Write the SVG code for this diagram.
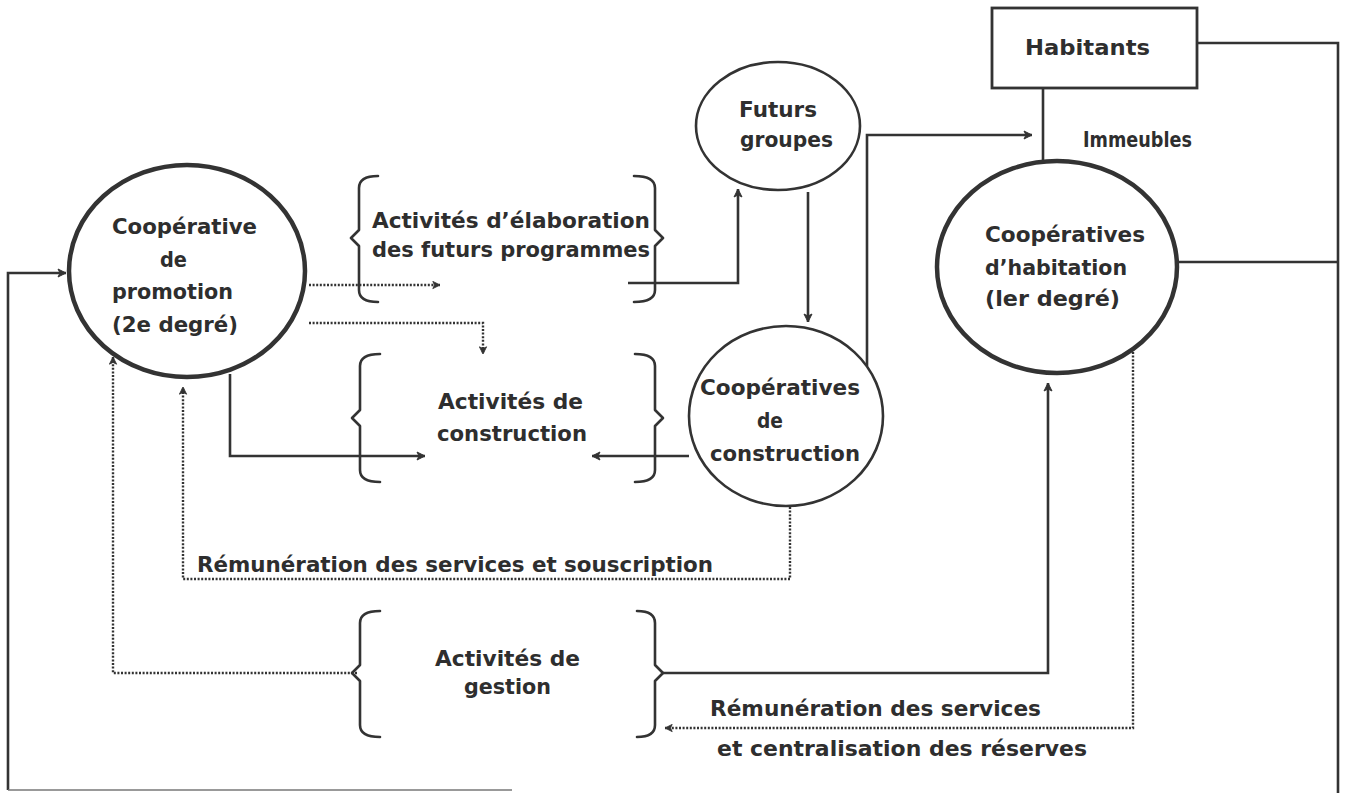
<svg xmlns="http://www.w3.org/2000/svg" width="1348" height="793" viewBox="0 0 1348 793">
  <defs>
    <style>
      .bg { fill: #ffffff; }
      .lbl { font-family: "DejaVu Sans", "Liberation Sans", sans-serif; font-weight: bold; font-size: 21px; fill: #2e2e2e; }
      .thick { fill: none; stroke: #333; stroke-width: 4.5; }
      .thin { fill: none; stroke: #333; stroke-width: 2.6; }
      .box { fill: none; stroke: #333; stroke-width: 2.8; }
      .brace { fill: none; stroke: #333; stroke-width: 2.6; stroke-linejoin: round; stroke-linecap: round; }
      .solid { fill: none; stroke: #333; stroke-width: 2.6; }
      .dotted { fill: none; stroke: #333; stroke-width: 2.4; stroke-dasharray: 2 1.6; }
      .faint { fill: none; stroke: #777; stroke-width: 1.6; }
    </style>
    <marker id="arr" viewBox="0 0 10 10" refX="9" refY="5" markerWidth="10" markerHeight="10" markerUnits="userSpaceOnUse" orient="auto">
      <path d="M1,1 L9,5 L1,9 L3,5 z" fill="#333" stroke="#333" stroke-width="1"/>
    </marker>
    <marker id="arrd" viewBox="0 0 10 10" refX="9" refY="5" markerWidth="9" markerHeight="9" markerUnits="userSpaceOnUse" orient="auto">
      <path d="M1,1 L9,5 L1,9 L3,5 z" fill="#333" stroke="#333" stroke-width="1"/>
    </marker>
  </defs>

  <rect class="bg" x="0" y="0" width="1348" height="793"/>

  <!-- connectors -->
  <g id="connectors">
    <!-- outer return loop into the promotion cooperative -->
    <path class="solid" d="M8,790 L8,273 L66,273" marker-end="url(#arr)"/>
    <path class="faint" d="M8,790 L512,790"/>
    <!-- promotion -> construction activities -->
    <path class="solid" d="M230,374 L230,456 L425,456" marker-end="url(#arr)"/>
    <!-- programme activities -> future groups -->
    <path class="solid" d="M628,283 L738,283 L738,189" marker-end="url(#arr)"/>
    <!-- future groups -> construction cooperatives -->
    <path class="solid" d="M808,192 L808,322" marker-end="url(#arr)"/>
    <!-- construction cooperatives -> construction activities -->
    <path class="solid" d="M689,456 L592,456" marker-end="url(#arr)"/>
    <!-- construction cooperatives -> buildings -->
    <path class="solid" d="M867,366 L867,135 L1032,135" marker-end="url(#arr)"/>
    <!-- residents <-> housing cooperatives -->
    <path class="solid" d="M1043,88 L1043,161"/>
    <path class="solid" d="M1197,43 L1338,43 L1338,793"/>
    <path class="solid" d="M1177,262 L1338,262"/>
    <!-- management activities -> housing cooperatives -->
    <path class="solid" d="M663,673 L1048,673 L1048,383" marker-end="url(#arr)"/>

    <!-- dotted flows -->
    <path class="dotted" d="M309,285 L440,285" marker-end="url(#arrd)"/>
    <path class="dotted" d="M309,323 L483,323 L483,354" marker-end="url(#arrd)"/>
    <path class="dotted" d="M357,673 L113,673 L113,357" marker-end="url(#arrd)"/>
    <path class="dotted" d="M790,507 L790,579 L183,579 L183,387" marker-end="url(#arrd)"/>
    <path class="dotted" d="M1133,352 L1133,728 L665,728" marker-end="url(#arrd)"/>
  </g>

  <!-- Coopérative de promotion -->
  <g id="promotion">
    <ellipse class="thick" cx="187" cy="271" rx="118" ry="106"/>
    <text class="lbl" x="112" y="234" textLength="145" lengthAdjust="spacingAndGlyphs">Coopérative</text>
    <text class="lbl" x="160" y="267" textLength="27" lengthAdjust="spacingAndGlyphs">de</text>
    <text class="lbl" x="112" y="299" textLength="121" lengthAdjust="spacingAndGlyphs">promotion</text>
    <text class="lbl" x="112" y="332" textLength="126" lengthAdjust="spacingAndGlyphs">(2e degré)</text>
  </g>

  <!-- Activités d'élaboration des futurs programmes -->
  <g id="elaboration">
    <path class="brace" d="M378,176 Q359,176 359,188 L359,230 L351,238 L359,246 L359,290 Q359,302 378,302"/>
    <path class="brace" d="M634,176 Q655,176 655,188 L655,230 L663,238 L655,246 L655,290 Q655,302 634,302"/>
    <text class="lbl" x="372" y="228" textLength="278" lengthAdjust="spacingAndGlyphs">Activités d’élaboration</text>
    <text class="lbl" x="372" y="257" textLength="278" lengthAdjust="spacingAndGlyphs">des futurs programmes</text>
  </g>

  <!-- Futurs groupes -->
  <g id="futurs-groupes">
    <ellipse class="thin" cx="778" cy="126" rx="82" ry="64"/>
    <text class="lbl" x="739" y="117" textLength="78" lengthAdjust="spacingAndGlyphs">Futurs</text>
    <text class="lbl" x="740" y="147" textLength="93" lengthAdjust="spacingAndGlyphs">groupes</text>
  </g>

  <!-- Habitants -->
  <g id="habitants">
    <rect class="box" x="992" y="8" width="205" height="80"/>
    <text class="lbl" x="1025" y="55" textLength="125" lengthAdjust="spacingAndGlyphs">Habitants</text>
  </g>

  <!-- Immeubles label -->
  <g id="immeubles">
    <text class="lbl" x="1083" y="147" textLength="109" lengthAdjust="spacingAndGlyphs">Immeubles</text>
  </g>

  <!-- Coopératives d'habitation -->
  <g id="habitation">
    <ellipse class="thick" cx="1057" cy="267" rx="120" ry="106"/>
    <text class="lbl" x="985" y="242" textLength="160" lengthAdjust="spacingAndGlyphs">Coopératives</text>
    <text class="lbl" x="985" y="275" textLength="142" lengthAdjust="spacingAndGlyphs">d’habitation</text>
    <text class="lbl" x="985" y="306" textLength="135" lengthAdjust="spacingAndGlyphs">(ler degré)</text>
  </g>

  <!-- Activités de construction -->
  <g id="activites-construction">
    <path class="brace" d="M380,354 Q360,354 360,366 L360,410 L352,418 L360,426 L360,470 Q360,482 380,482"/>
    <path class="brace" d="M635,354 Q655,354 655,366 L655,410 L663,418 L655,426 L655,470 Q655,482 635,482"/>
    <text class="lbl" x="438" y="409" textLength="145" lengthAdjust="spacingAndGlyphs">Activités de</text>
    <text class="lbl" x="437" y="441" textLength="150" lengthAdjust="spacingAndGlyphs">construction</text>
  </g>

  <!-- Coopératives de construction -->
  <g id="cooperatives-construction">
    <ellipse class="thin" cx="786" cy="416" rx="97" ry="90"/>
    <text class="lbl" x="700" y="395" textLength="160" lengthAdjust="spacingAndGlyphs">Coopératives</text>
    <text class="lbl" x="757" y="428" textLength="26" lengthAdjust="spacingAndGlyphs">de</text>
    <text class="lbl" x="710" y="461" textLength="150" lengthAdjust="spacingAndGlyphs">construction</text>
  </g>

  <!-- Rémunération des services et souscription -->
  <g id="remuneration-souscription">
    <text class="lbl" x="197" y="572" textLength="516" lengthAdjust="spacingAndGlyphs">Rémunération des services et souscription</text>
  </g>

  <!-- Activités de gestion -->
  <g id="gestion">
    <path class="brace" d="M380,611 Q360,611 360,623 L360,665 L352,673 L360,681 L360,725 Q360,737 380,737"/>
    <path class="brace" d="M637,611 Q655,611 655,623 L655,665 L663,673 L655,681 L655,725 Q655,737 637,737"/>
    <text class="lbl" x="435" y="666" textLength="145" lengthAdjust="spacingAndGlyphs">Activités de</text>
    <text class="lbl" x="464" y="694" textLength="87" lengthAdjust="spacingAndGlyphs">gestion</text>
  </g>

  <!-- Rémunération des services et centralisation des réserves -->
  <g id="remuneration-reserves">
    <text class="lbl" x="710" y="716" textLength="331" lengthAdjust="spacingAndGlyphs">Rémunération des services</text>
    <text class="lbl" x="717" y="756" textLength="370" lengthAdjust="spacingAndGlyphs">et centralisation des réserves</text>
  </g>
</svg>
